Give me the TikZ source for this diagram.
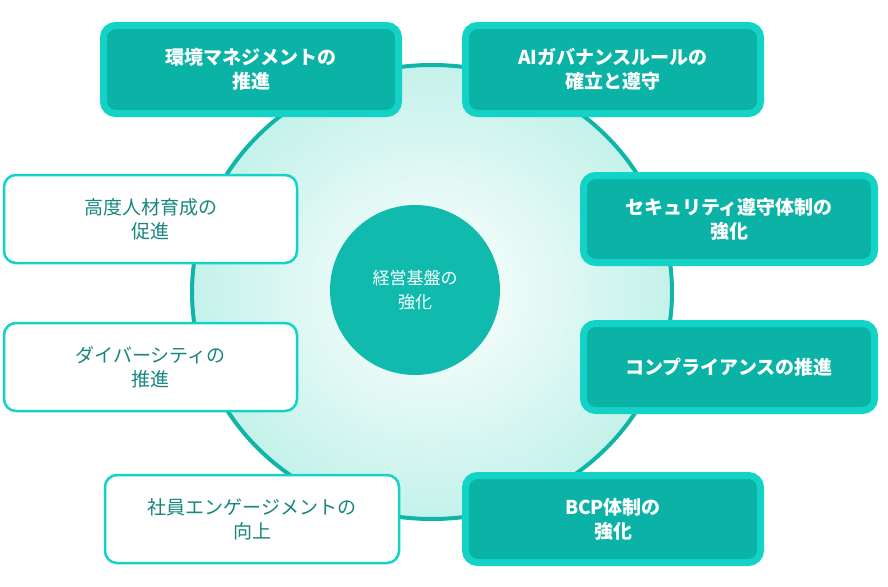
\documentclass[tikz,border=0pt]{standalone}
\usepackage{fontspec}
\setmainfont{Noto Sans CJK JP}
\newfontfamily\jpb{Noto Sans CJK JP}[BoldFont=* Bold]
\begin{document}
\definecolor{tealout}{HTML}{12D3C6}
\definecolor{tealin}{HTML}{0BB3A7}
\definecolor{tealtxt}{HTML}{17867E}
\definecolor{mint}{HTML}{C4F2EA}
\definecolor{ring}{HTML}{0FB5A8}
\begin{tikzpicture}[x=1pt,y=-1pt,
  tbox/.style={draw=tealout,line width=7pt,fill=tealin,rounded corners=12pt,text=white,font=\fontsize{19}{24}\selectfont\bfseries,align=center,inner sep=0pt},
  wbox/.style={draw=tealout,line width=2.5pt,fill=white,rounded corners=12pt,text=tealtxt,font=\fontsize{19}{24}\selectfont,align=center,inner sep=0pt}]
\useasboundingbox (0,0) rectangle (888,586);
\shade[inner color=white,outer color=mint] (432,292) ellipse [x radius=240,y radius=227];
\draw[ring,line width=4pt] (432,292) ellipse [x radius=240,y radius=227];
\node[circle,fill=ring!80!tealout,minimum size=170pt,text=white,font=\fontsize{17}{24}\selectfont,align=center] (c) at (415,290) {経営基盤の\\強化};
\node[tbox,minimum width=295pt,minimum height=88pt] (a) at (251,69.5) {環境マネジメントの\\推進};
\node[tbox,minimum width=295pt,minimum height=88pt] (b) at (613,69.5) {AIガバナンスルールの\\確立と遵守};
\node[wbox,minimum width=293pt,minimum height=88pt] (d) at (150.5,219) {高度人材育成の\\促進};
\node[tbox,minimum width=291pt,minimum height=87pt] (e) at (729,219) {セキュリティ遵守体制の\\強化};
\node[wbox,minimum width=293pt,minimum height=88pt] (f) at (150.5,367) {ダイバーシティの\\推進};
\node[tbox,minimum width=291pt,minimum height=87pt] (g) at (729,367) {コンプライアンスの推進};
\node[wbox,minimum width=294pt,minimum height=88pt] (h) at (252,519) {社員エンゲージメントの\\向上};
\node[tbox,minimum width=295pt,minimum height=87pt] (i) at (613,519) {BCP体制の\\強化};
\end{tikzpicture}
\end{document}
